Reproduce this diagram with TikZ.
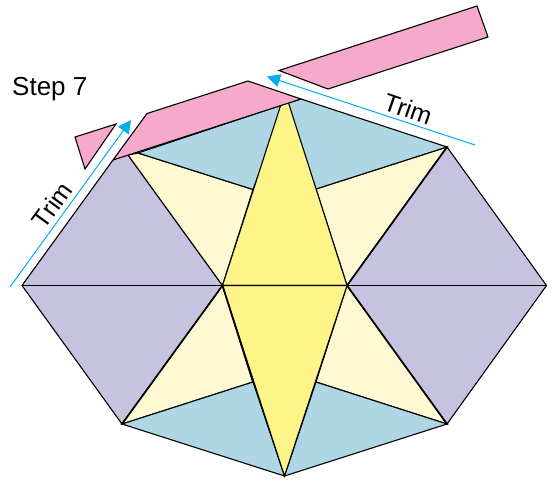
\documentclass[tikz,border=0pt]{standalone}
\usepackage{fontspec}
\setmainfont{Liberation Sans}
\usetikzlibrary{arrows.meta}
\definecolor{pinkc}{HTML}{F5A9CB}
\definecolor{bluec}{HTML}{AFD6E4}
\definecolor{paleyc}{HTML}{FEF9D3}
\definecolor{yellowc}{HTML}{FFF488}
\definecolor{purplec}{HTML}{C6C3E0}
\definecolor{cyanc}{HTML}{00AEEF}
\tikzset{
  piece/.style={draw=black,line width=1.1pt,line join=miter},
  heavy/.style={draw=black,line width=1.7pt},
  trimline/.style={draw=cyanc,line width=1pt,-{Triangle[length=13pt,width=13pt]}},
  trimtext/.style={font=\fontsize{25}{27}\selectfont,inner sep=0pt},
}
\begin{document}
\begin{tikzpicture}[x=1pt,y=-1pt]
\useasboundingbox (0,0) rectangle (547,482);
\coordinate (L) at (22,285.5);
\coordinate (R) at (546.5,285.5);
\coordinate (CL) at (222.5,285.5);
\coordinate (CR) at (347,285.5);
\coordinate (TL) at (113,160);
\coordinate (TLi) at (128,155);
\coordinate (TR) at (447,147);
\coordinate (BL) at (122,424);
\coordinate (BR) at (447,424);
\coordinate (B) at (284.5,476);
\coordinate (A1) at (282.4,100);
\coordinate (A2) at (287.6,100);
\coordinate (UL) at (253,189.5);
\coordinate (UR) at (316,189);
\coordinate (LL) at (253,382);
\coordinate (LR) at (316,382);
\coordinate (PC) at (301,99);
% purple
\fill[purplec] (L) -- (TL) -- (TLi) -- (CL) -- cycle;
\fill[purplec] (L) -- (CL) -- (BL) -- cycle;
\fill[purplec] (R) -- (TR) -- (CR) -- cycle;
\fill[purplec] (R) -- (BR) -- (CR) -- cycle;
\draw[piece] (CL) -- (TLi) (TL) -- (L) -- (BL) (TR) -- (R) -- (BR);
% pale yellow
\path[piece,fill=paleyc] (TLi) -- (138,153) -- (UL) -- (CL) -- cycle;
\path[piece,fill=paleyc] (TR) -- (UR) -- (CR) -- cycle;
\path[piece,fill=paleyc] (CL) -- (LL) -- (BL) -- cycle;
\path[piece,fill=paleyc] (CR) -- (LR) -- (BR) -- cycle;
% blue
\path[piece,fill=bluec] (138,153) -- (285,104) -- (UL) -- cycle;
\path[piece,fill=bluec] (PC) -- (TR) -- (UR) -- (285,104) -- cycle;
\path[piece,fill=bluec] (BL) -- (LL) -- (B) -- cycle;
\path[piece,fill=bluec] (BR) -- (LR) -- (B) -- cycle;
% yellow
\path[piece,fill=yellowc] (CL) -- (A1) -- (A2) -- (CR) -- cycle;
\path[piece,fill=yellowc] (CL) -- (B) -- (CR) -- cycle;
% heavy seams
\draw[piece] (L) -- (R);
\draw[heavy] (CL) -- (BL) (CL) -- (LL) (CR) -- (BR) (CR) -- (TR);
% pink
\path[piece,fill=pinkc] (TL) -- (147,113.5) -- (248,81) -- (PC) -- cycle;
\path[piece,fill=pinkc] (279,70.5) -- (477,6) -- (488,37) -- (328,89) -- cycle;
\path[piece,fill=pinkc] (75,137) -- (116,124) -- (85,169) -- cycle;
% trim arrows
\coordinate (a1s) at (10,287);
\coordinate (a1e) at (131,120);
\coordinate (a2s) at (475,145);
\coordinate (a2e) at (267,76.5);
\draw[trimline] (a1s) -- (a1e);
\draw[trimline] (a2s) -- (a2e);
% labels
\node[trimtext,anchor=base west] (step) at (12,95) {\fontsize{26}{28}\selectfont Step 7};
\node[trimtext,rotate=54] (trimL) at (52,205) {Trim};
\node[trimtext,rotate=-19] (trimR) at (408,109) {Trim};
\end{tikzpicture}
\end{document}
